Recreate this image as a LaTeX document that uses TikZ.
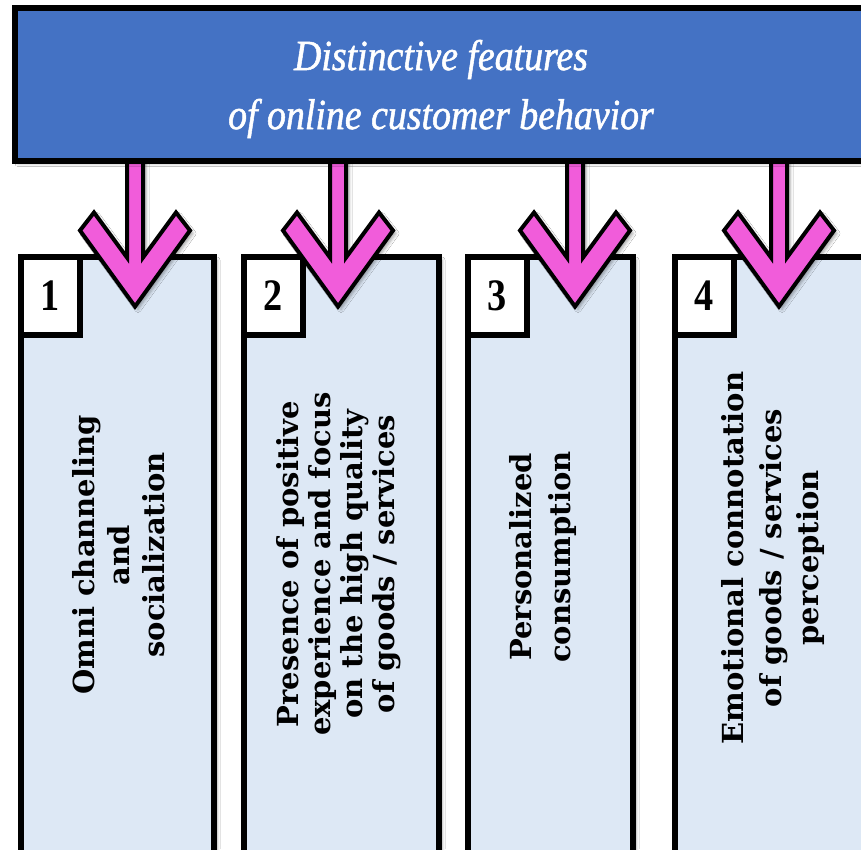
\documentclass[tikz,border=0pt]{standalone}
\usepackage{fontspec}
\setmainfont{Liberation Serif}
\newfontfamily\titlefont[FakeStretch=0.88,FakeBold=1.2]{Liberation Serif}
\newfontfamily\boxfont{DejaVu Serif}
\newfontfamily\numfont[FakeStretch=0.85]{Liberation Serif}
\usetikzlibrary{shadows.blur}
\definecolor{titleblue}{HTML}{4472C4}
\definecolor{boxblue}{HTML}{DDE8F5}
\definecolor{arrowpink}{HTML}{F15CDA}
\begin{document}
\begin{tikzpicture}[x=1pt,y=-1pt,
  softshadow/.style={blur shadow={shadow xshift=3pt,shadow yshift=-3pt,shadow blur radius=3pt,shadow opacity=35}},
  featbox/.style={draw=black,line width=6pt,fill=boxblue,softshadow,anchor=north west,inner sep=0pt,outer sep=0pt,minimum height=605pt},
  numbox/.style={draw=black,line width=6pt,fill=white,anchor=north west,inner sep=0pt,outer sep=0pt,minimum width=59pt,minimum height=78pt,font=\numfont\bfseries\fontsize{45}{45}\selectfont},
  titlebox/.style={draw=black,line width=6pt,fill=titleblue,softshadow,anchor=north west,inner sep=0pt,outer sep=0pt,minimum width=855pt,minimum height=153pt},
  titletext/.style={text=white,align=center,inner sep=0pt,font=\titlefont\itshape\fontsize{43}{59}\selectfont},
  boxtext/.style={rotate=90,align=center,inner sep=0pt,font=\boxfont\bfseries\fontsize{29}{#1}\selectfont},
  arrowstyle/.style={draw=black,line width=4pt,fill=arrowpink,line join=miter,softshadow},
  bigarrow/.pic={\draw[arrowstyle] (-8,-3) -- (-8,97) -- (-41,52) -- (-55,70) -- (0,146) -- (55,70) -- (41,52) -- (8,97) -- (8,-3) -- cycle;}
]
\useasboundingbox (0,0) rectangle (861,849);
\clip (0,0) rectangle (861,849);
\fill[white] (0,0) rectangle (861,849);

% feature boxes
\node[featbox,minimum width=193pt] (b1) at (21,257) {};
\node[featbox,minimum width=195pt] (b2) at (244,257) {};
\node[featbox,minimum width=165pt] (b3) at (468,257) {};
\node[featbox,minimum width=198pt] (b4) at (675,257) {};

% number boxes
\node[numbox] (n1) at (b1.north west) {1};
\node[numbox] (n2) at (b2.north west) {2};
\node[numbox] (n3) at (b3.north west) {3};
\node[numbox] (n4) at (b4.north west) {4};

% arrows from the title box down to the feature boxes
\path (15,7.5) coordinate (tl);
\coordinate (x1) at (135,0);
\coordinate (x2) at (338,0);
\coordinate (x3) at (575,0);
\coordinate (x4) at (779,0);
\coordinate (tb) at (0,160.5);

\pic (a1) at (tb -| x1) {bigarrow};
\pic (a2) at (tb -| x2) {bigarrow};
\pic (a3) at (tb -| x3) {bigarrow};
\pic (a4) at (tb -| x4) {bigarrow};

% title box
\node[titlebox] (title) at (tl) {};
\node[titletext] (ttext) at (441,89) {Distinctive features\\of online customer behavior};

% texts
\node[boxtext=35] (t1) at (119,555) {Omni channeling\\and\\socialization};
\node[boxtext=32] (t2) at (339,564) {Presence of positive\\experience and focus\\on the high quality\\of goods / services};
\node[boxtext=39] (t3) at (543,557) {Personalized\\consumption};
\node[boxtext=37.5] (t4) at (773,558) {Emotional connotation\\of goods / services\\perception};
\end{tikzpicture}
\end{document}
